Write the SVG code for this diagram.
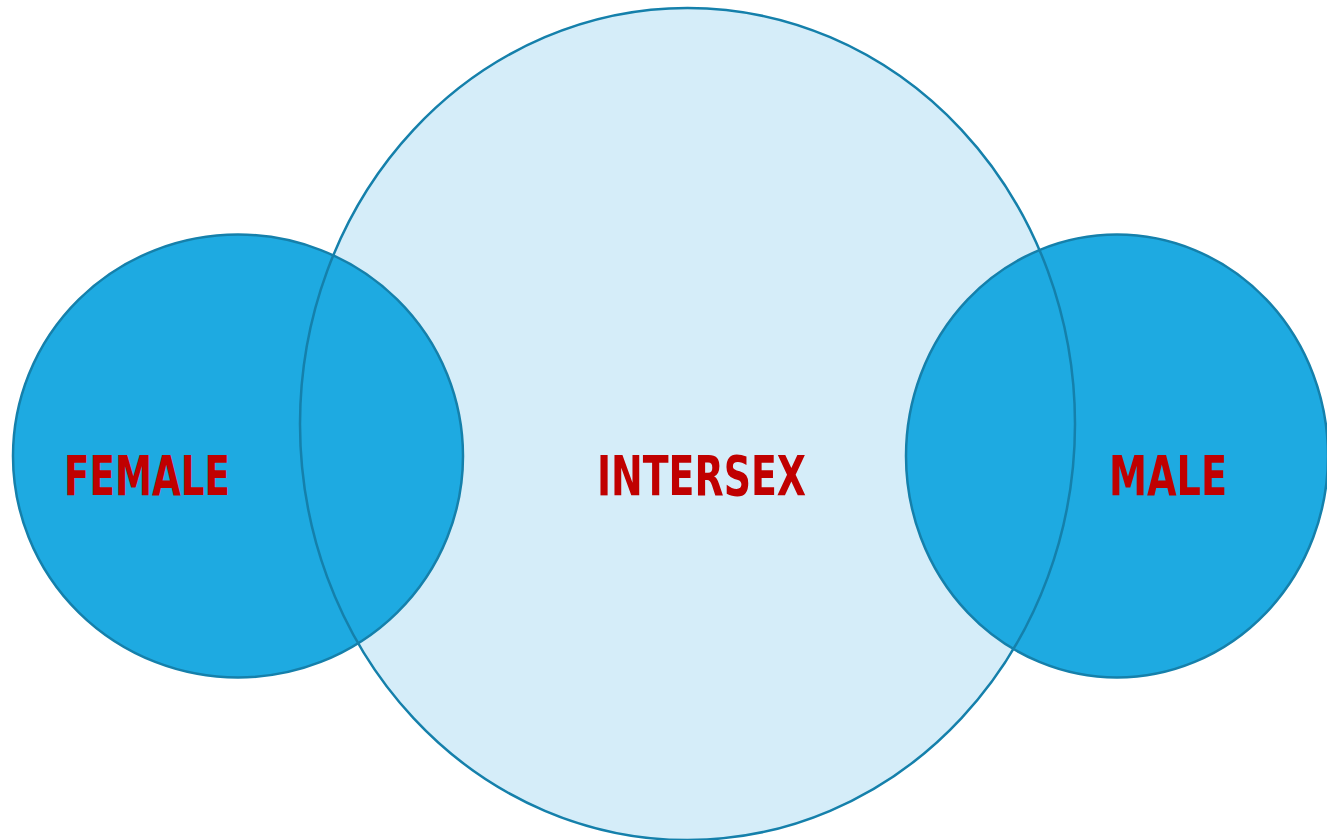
<svg xmlns="http://www.w3.org/2000/svg" width="1327" height="840" viewBox="0 0 1327 840">
<style>
.big{fill:#D5EDF9;stroke:none}
.bigline{fill:none;stroke:#1580AB;stroke-width:2.5}
.small{fill:#1EAAE1;stroke:#1580AB;stroke-width:2.5}
.lbl{font-family:"DejaVu Sans Condensed","DejaVu Sans","Liberation Sans",sans-serif;font-weight:bold;font-size:55px;fill:#C00000}
</style>
<rect width="1327" height="840" fill="#FFFFFF"/>
<g id="intersex-fill"><ellipse class="big" cx="687.5" cy="424" rx="387.5" ry="416"/></g>
<g id="female"><ellipse class="small" cx="238" cy="456" rx="225" ry="221.5"/><text class="lbl" x="64" y="495" textLength="166" lengthAdjust="spacingAndGlyphs">FEMALE</text></g>
<g id="male"><ellipse class="small" cx="1117" cy="456" rx="211" ry="221.5"/><text class="lbl" x="1109" y="495" textLength="118" lengthAdjust="spacingAndGlyphs">MALE</text></g>
<g id="intersex"><ellipse class="bigline" cx="687.5" cy="424" rx="387.5" ry="416"/><text class="lbl" x="597" y="495" textLength="209" lengthAdjust="spacingAndGlyphs">INTERSEX</text></g>
</svg>
